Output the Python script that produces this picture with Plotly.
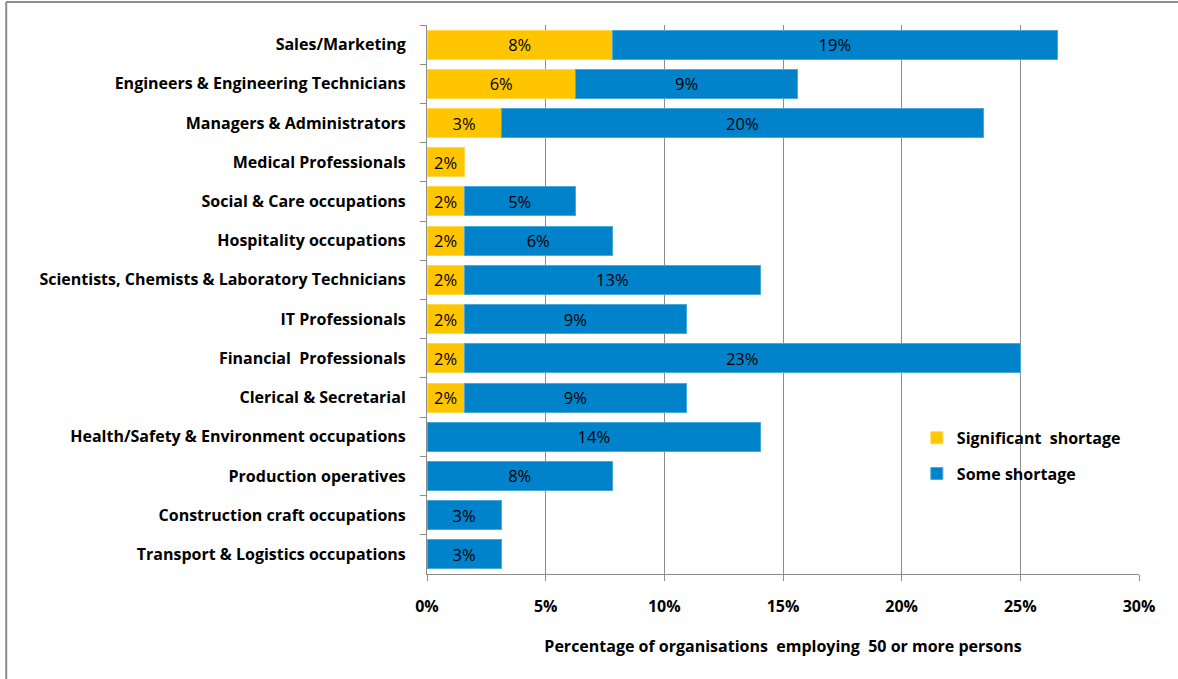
import plotly.graph_objects as go

# Occupations, top to bottom
categories = [
    "Sales/Marketing",
    "Engineers & Engineering Technicians",
    "Managers & Administrators",
    "Medical Professionals",
    "Social & Care occupations",
    "Hospitality occupations",
    "Scientists, Chemists & Laboratory Technicians",
    "IT Professionals",
    "Financial  Professionals",
    "Clerical & Secretarial",
    "Health/Safety & Environment occupations",
    "Production operatives",
    "Construction craft occupations",
    "Transport & Logistics occupations",
]

# Share of organisations (%) reporting each level of shortage
significant_shortage = [7.81, 6.25, 3.13, 1.56, 1.56, 1.56, 1.56, 1.56, 1.56, 1.56,
                        None, None, None, None]
some_shortage = [18.75, 9.38, 20.31, None, 4.69, 6.25, 12.50, 9.38, 23.44, 9.38,
                 14.06, 7.81, 3.13, 3.13]

FONT = "'Open Sans', Lato, sans-serif"
YELLOW = "#FFC600"
BLUE = "#0083CB"
GRID = "#8C8C8C"

fig = go.Figure()
fig.add_trace(go.Bar(
    y=categories, x=significant_shortage, orientation="h",
    name="Significant  shortage", legendgroup="a",
    marker=dict(color=YELLOW, line=dict(color="#FFD84D", width=1)),
    texttemplate="%{x:.0f}%", textposition="inside", insidetextanchor="middle",
    textfont=dict(family=FONT, size=16.5, color="#000000"), constraintext="none",
))
fig.add_trace(go.Bar(
    y=categories, x=some_shortage, orientation="h",
    name="Some shortage", legendgroup="b",
    marker=dict(color=BLUE, line=dict(color="#4DA8DA", width=1)),
    texttemplate="%{x:.0f}%", textposition="inside", insidetextanchor="middle",
    textfont=dict(family=FONT, size=16.5, color="#000000"), constraintext="none",
))

fig.update_layout(
    width=1178, height=679,
    barmode="stack", bargap=0.26,
    paper_bgcolor="white", plot_bgcolor="white",
    margin=dict(l=427, r=39, t=25, b=105),
    font=dict(family=FONT, size=16, color="#000000"),
    uniformtext=dict(mode="show", minsize=16),
    legend=dict(
        x=0.688, y=0.279, xanchor="left", yanchor="top",
        traceorder="grouped", tracegroupgap=12,
        font=dict(family=FONT, size=16, color="#000000", weight="bold"),
        bgcolor="rgba(0,0,0,0)", itemwidth=30,
    ),
    showlegend=True,
)

fig.update_xaxes(
    range=[0, 30], tick0=0, dtick=5, ticksuffix="%",
    showgrid=True, gridcolor=GRID, gridwidth=1,
    showline=True, linecolor=GRID, linewidth=1,
    ticks="outside", ticklen=6, tickcolor=GRID,
    tickfont=dict(family=FONT, size=16, weight="bold"),
    ticklabelstandoff=12, zeroline=False,
    title=dict(text="Percentage of organisations  employing  50 or more persons",
               font=dict(family=FONT, size=16, weight="bold"), standoff=24),
)
fig.update_yaxes(
    autorange="reversed",
    showline=True, linecolor=GRID, linewidth=1,
    ticks="outside", ticklen=6, tickcolor=GRID, tickson="boundaries",
    tickfont=dict(family=FONT, size=16, weight="bold"),
    ticklabelstandoff=17, showgrid=False,
)

# Chart frame (top and left edges)
fig.add_shape(type="line", xref="paper", yref="paper",
              x0=-0.591, x1=1.2, y0=1.042, y1=1.042,
              line=dict(color="#8C8C8C", width=2))
fig.add_shape(type="line", xref="paper", yref="paper",
              x0=-0.591, x1=-0.591, y0=1.042, y1=-0.3,
              line=dict(color="#8C8C8C", width=2))

fig.write_html("out.html")
